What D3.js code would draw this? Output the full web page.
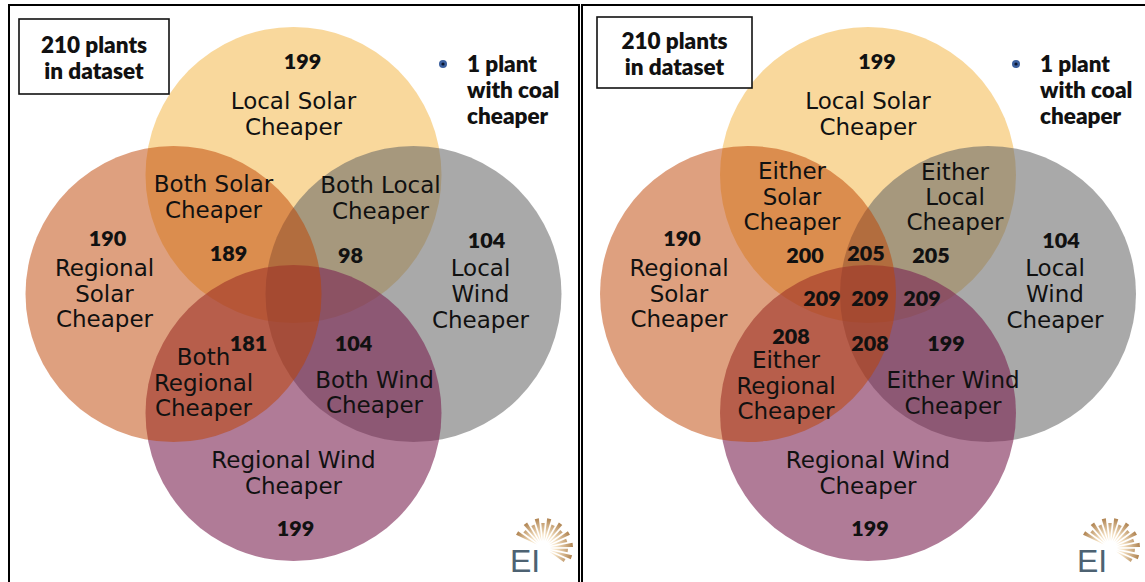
<!DOCTYPE html>
<html>
<head>
<meta charset="utf-8">
<script src="https://cdn.jsdelivr.net/npm/d3@7"></script>
<style>
    body { margin: 0; background: #fff; }
    svg text { font-family: "DejaVu Sans", sans-serif; fill: #111; }
    .lbl { font-size: 23px; }
    .num { font-family: Lato, sans-serif; font-weight: 800; font-size: 21.5px; }
    .note { font-family: Lato, sans-serif; font-weight: 800; font-size: 22.5px; }
    .box { font-family: Lato, sans-serif; font-weight: 800; font-size: 22.5px; }
</style>
</head>
<body>
<div id="chart"></div>
<script>
'use strict';

// ---- data ----
// sets, in paint order: top, right, bottom, left
const setNames = ['Local Solar Cheaper', 'Local Wind Cheaper', 'Regional Wind Cheaper', 'Regional Solar Cheaper'];
const setLines = [['Local Solar', 'Cheaper'], ['Local', 'Wind', 'Cheaper'], ['Regional Wind', 'Cheaper'], ['Regional', 'Solar', 'Cheaper']];
const setCounts = [199, 104, 199, 190];

// pairwise overlaps: solar (top+left), local (top+right), regional (left+bottom), wind (right+bottom)
const bothLines = [['Both Solar', 'Cheaper'], ['Both Local', 'Cheaper'], ['Both', 'Regional', 'Cheaper'], ['Both Wind', 'Cheaper']];
const bothCounts = [189, 98, 181, 104];
const eitherLines = [['Either', 'Solar', 'Cheaper'], ['Either', 'Local', 'Cheaper'], ['Either', 'Regional', 'Cheaper'], ['Either Wind', 'Cheaper']];
const eitherCounts = [200, 205, 208, 199];
// multi-set regions of the "either" panel: upper middle, left middle, centre, right middle, lower middle
const eitherInnerCounts = [205, 209, 209, 209, 208];

const totalPlants = 210;
const coalPlants = 1;

// ---- layout ----
const W = 1145, H = 582;
const R = 148;
// unit positions of circles (top, right, bottom, left)
const setPos = [[0, -1], [1, 0], [0, 1], [-1, 0]];
const setFill = ['rgb(243,177,57)', 'rgb(101,101,101)', 'rgb(123,35,82)', 'rgb(189,65,0)'];
const setAlpha = [0.5, 0.56, 0.6, 0.5];

// label offsets from venn centre, px
const setLabelPos = [
    {count: [9, -233], lines: [0, -193], step: 26},
    {count: [193, -54], lines: [187, -26], step: 26},
    {count: [2, 234], lines: [0, 166], step: 26},
    {count: [-186, -56], lines: [-189, -26], step: 25.5}
];
const bothLabelPos = [
    {count: [-65, -41], lines: [-80, -110], step: 26},
    {count: [57, -39], lines: [87, -109], step: 26},
    {count: [-45, 49], lines: [-90, 63], step: 25.5},
    {count: [60, 49], lines: [81, 86], step: 25}
];
const eitherLabelPos = [
    {count: [-63, -39], lines: [-76, -123], step: 25.5},
    {count: [63, -39], lines: [87, -122], step: 25},
    {count: [-77, 42], lines: [-82, 66], step: 25.5},
    {count: [78, 49], lines: [85, 86], step: 26}
];
const eitherInnerPos = [[-2, -41], [-46, 4], [2, 4], [54, 4], [2, 49]];

const panels = [
    {cx: 293.5, cy: 294, frame: [9, 5, 570, 600], box: [19, 19, 150, 75], note: [443, 467], logo: 510,
        lines: bothLines, counts: bothCounts, pos: bothLabelPos, inner: []},
    {cx: 868, cy: 294, frame: [582, 5, 600, 600], box: [597, 17, 155, 71], note: [1016, 1040], logo: 1077,
        lines: eitherLines, counts: eitherCounts, pos: eitherLabelPos, inner: eitherInnerCounts}
];

const svg = d3.select('#chart').append('svg')
    .attr('width', W)
    .attr('height', H);

const defs = svg.append('defs');
const rayGrad = defs.append('radialGradient')
    .attr('id', 'rayGrad')
    .attr('gradientUnits', 'userSpaceOnUse')
    .attr('cx', 0).attr('cy', 0).attr('r', 30);
rayGrad.append('stop').attr('offset', '0%').attr('stop-color', '#fffaf2');
rayGrad.append('stop').attr('offset', '45%').attr('stop-color', '#f5e2c4');
rayGrad.append('stop').attr('offset', '100%').attr('stop-color', '#b08452');

// add a block of centred lines
function addLines(g, lines, x, y, step, cls) {
    lines.forEach((t, i) => {
        g.append('text')
            .attr('class', cls)
            .attr('x', x)
            .attr('y', y + i * step)
            .attr('text-anchor', 'middle')
            .attr('dominant-baseline', 'central')
            .text(t);
    });
}

panels.forEach((p) => {
    const g = svg.append('g');

    // frame
    g.append('rect')
        .attr('x', p.frame[0]).attr('y', p.frame[1])
        .attr('width', p.frame[2]).attr('height', p.frame[3])
        .attr('fill', 'none')
        .attr('stroke', '#000')
        .attr('stroke-width', 2);

    const x = d3.scaleLinear().domain([-1, 1]).range([p.cx - 120, p.cx + 120]);
    const y = d3.scaleLinear().domain([-1, 1]).range([p.cy - 119, p.cy + 119]);

    // circles
    g.selectAll('.set')
        .data(setNames)
        .join('circle')
        .attr('class', 'set')
        .attr('cx', (d, i) => x(setPos[i][0]))
        .attr('cy', (d, i) => y(setPos[i][1]))
        .attr('r', R)
        .attr('fill', (d, i) => setFill[i])
        .attr('fill-opacity', (d, i) => setAlpha[i]);

    const lg = g.append('g').attr('transform', `translate(${p.cx},${p.cy})`);

    // set labels
    setLines.forEach((lines, i) => {
        const lp = setLabelPos[i];
        addLines(lg, lines, lp.lines[0], lp.lines[1], lp.step, 'lbl');
        addLines(lg, [String(setCounts[i])], lp.count[0], lp.count[1], 0, 'num');
    });

    // overlap labels
    p.lines.forEach((lines, i) => {
        const lp = p.pos[i];
        addLines(lg, lines, lp.lines[0], lp.lines[1], lp.step, 'lbl');
        addLines(lg, [String(p.counts[i])], lp.count[0], lp.count[1], 0, 'num');
    });
    p.inner.forEach((c, i) => {
        addLines(lg, [String(c)], eitherInnerPos[i][0], eitherInnerPos[i][1], 0, 'num');
    });

    // dataset box
    const b = p.box;
    g.append('rect')
        .attr('x', b[0]).attr('y', b[1])
        .attr('width', b[2]).attr('height', b[3])
        .attr('fill', '#fff')
        .attr('stroke', '#111')
        .attr('stroke-width', 1.6);
    addLines(g, [`${totalPlants} plants`, 'in dataset'], b[0] + b[2] / 2, b[1] + b[3] / 2 - 12.5, 26, 'box');

    // coal note
    g.append('circle')
        .attr('cx', p.note[0]).attr('cy', 64)
        .attr('r', 4)
        .attr('fill', '#3b5f9e');
    g.append('circle')
        .attr('cx', p.note[0]).attr('cy', 64)
        .attr('r', 1.6)
        .attr('fill', '#0b1630');
    [`${coalPlants} plant`, 'with coal', 'cheaper'].forEach((t, i) => {
        g.append('text')
            .attr('class', 'note')
            .attr('x', p.note[1])
            .attr('y', 63 + i * 26)
            .attr('dominant-baseline', 'central')
            .text(t);
    });

    // EI logo
    const logo = g.append('g').attr('transform', `translate(${p.logo},515)`);
    const fan = logo.append('g').attr('transform', 'translate(33,33)');
    const angles = d3.range(16).map(i => -150 + i * 12);
    fan.selectAll('path')
        .data(angles)
        .join('path')
        .attr('d', (a, i) => {
            const t = a * Math.PI / 180;
            const r0 = 7, r1 = (i % 2 ? 25 : 30);
            const w = 0.07;
            return `M${r0 * Math.cos(t)},${r0 * Math.sin(t)}` +
                `L${r1 * Math.cos(t - w)},${r1 * Math.sin(t - w)}` +
                `L${r1 * Math.cos(t + w)},${r1 * Math.sin(t + w)}Z`;
        })
        .attr('fill', 'url(#rayGrad)');
    logo.append('text')
        .attr('x', 0).attr('y', 57)
        .style('font-family', '"Liberation Sans", sans-serif')
        .style('font-size', '32px')
        .style('fill', '#4d6272')
        .text('EI');
});
</script>
</body>
</html>
